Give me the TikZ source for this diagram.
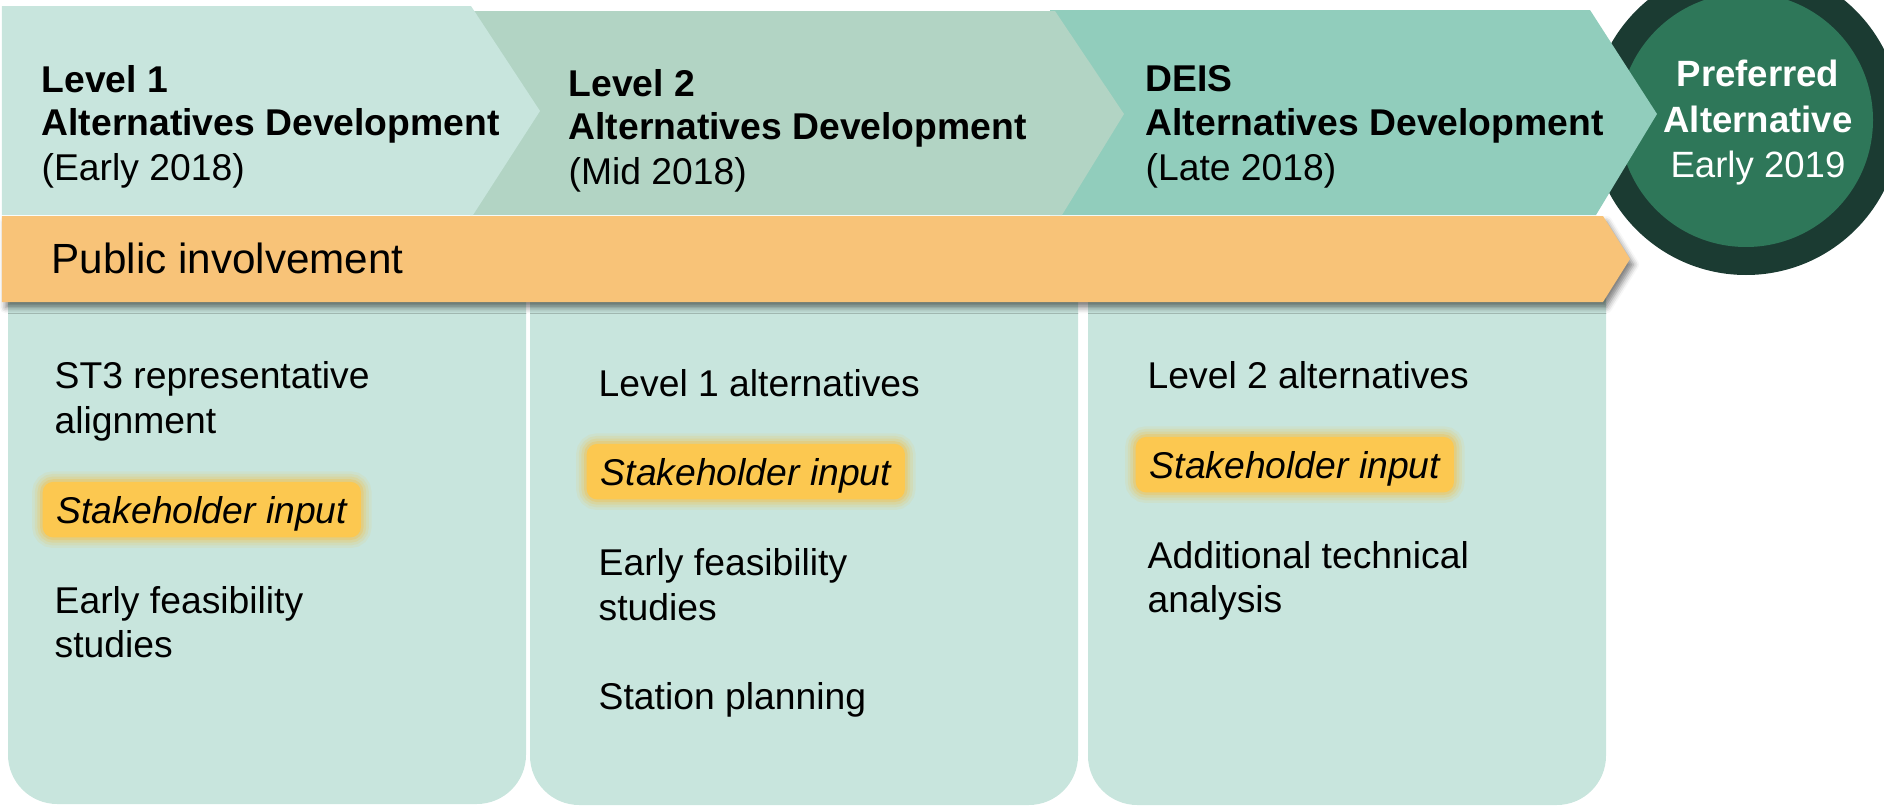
\documentclass[tikz,border=0pt]{standalone}
\usepackage{fontspec}
\setmainfont{Liberation Sans}
\usetikzlibrary{shadows.blur}
\definecolor{mintlight}{HTML}{C8E5DD}
\definecolor{mintmid}{HTML}{B2D4C4}
\definecolor{mintdark}{HTML}{91CDBC}
\definecolor{bandorange}{HTML}{F8C378}
\definecolor{stakeyellow}{HTML}{FCC850}
\definecolor{stakeglow}{HTML}{F5BE45}
\definecolor{prefgreen}{HTML}{2E7759}
\definecolor{prefring}{HTML}{1B3B32}
\tikzset{
    head/.style={font=\fontsize{10.6}{12.7}\selectfont\bfseries, anchor=base west, inner sep=0pt}, % phase titles
    date/.style={font=\fontsize{10.6}{12.7}\selectfont, anchor=base west, inner sep=0pt},
    item/.style={font=\fontsize{10.6}{12.7}\selectfont, anchor=base west, inner sep=0pt}, % panel entries
    stake/.style={font=\fontsize{10.6}{12.7}\selectfont\itshape, anchor=base west,
        fill=stakeyellow, rounded corners=3pt, inner xsep=4pt, inner ysep=4.1pt,
        text height=7.6pt, text depth=0pt,
        preaction={draw=stakeglow, line width=6pt, draw opacity=.10},
        preaction={draw=stakeglow, line width=4.5pt, draw opacity=.14},
        preaction={draw=stakeglow, line width=3pt, draw opacity=.20},
        preaction={draw=stakeglow, line width=1.5pt, draw opacity=.30}},
    panel/.style={fill=mintlight, rounded corners=14pt},
    pref/.style={text=white, anchor=base, inner sep=0pt},
}

\begin{document}
\begin{tikzpicture}[x=0.01cm, y=-0.01cm]
    \useasboundingbox (0,0) rectangle (1884,806);
    \clip (0,0) rectangle (1884,806);

    % final milestone
    \fill[prefring] (1746,120) circle[radius=155];
    \fill[prefgreen] (1746,120) circle[radius=127];

    % phase chevrons, drawn back to front
    \fill[mintdark] (1050,10) -- (1590,10) -- (1657,114) -- (1596,215) -- (1050,215) -- cycle;
    \fill[mintmid] (470,11) -- (1055,11) -- (1124,114) -- (1062,215) -- (470,215) -- cycle;
    \fill[mintlight] (2,6) -- (471,6) -- (540,111) -- (473,215) -- (2,215) -- cycle;

    % panels
    \fill[panel] (8,222) rectangle (526,804);
    \fill[panel] (530,222) rectangle (1078,805);
    \fill[panel] (1088,222) rectangle (1606,805);

    % public involvement arrow
    \fill[bandorange, blur shadow={shadow xshift=1pt, shadow yshift=-1.6pt, shadow blur radius=1.6pt, shadow opacity=50}]
        (2,216) -- (1603,216) -- (1630,259) -- (1603,302) -- (2,302) -- cycle;
    \node[anchor=base west, inner sep=0pt, font=\fontsize{12}{14}\selectfont] (pub) at (51,273) {Public involvement};

    % headings
    \node[head] (l1head) at (41,92) {Level 1};
    \node[head] (l1sub) at (41,135) {Alternatives Development};
    \node[date] (l1date) at (41,180) {(Early 2018)};

    \node[head] (l2head) at (568,96) {Level 2};
    \node[head] (l2sub) at (568,139) {Alternatives Development};
    \node[date] (l2date) at (568,184) {(Mid 2018)};

    \node[head] (dhead) at (1145,91) {DEIS};
    \node[head] (dsub) at (1145,135) {Alternatives Development};
    \node[date] (ddate) at (1145,180) {(Late 2018)};

    \node[pref, font=\fontsize{10.4}{12.5}\selectfont\bfseries] (prefa) at (1758,87) {Preferred};
    \node[pref, font=\fontsize{10.4}{12.5}\selectfont\bfseries] (prefb) at (1758,133) {Alternative};
    \node[pref, font=\fontsize{10.4}{12.5}\selectfont] (prefc) at (1758,177) {Early 2019};

    % panel 1
    \node[item] (p1a) at (54,388) {ST3 representative};
    \node[item] (p1b) at (54,433) {alignment};
    \node[stake] (p1s) at (42,523) {Stakeholder input};
    \node[item] (p1c) at (54,613) {Early feasibility};
    \node[item] (p1d) at (54,657) {studies};

    % panel 2
    \node[item] (p2a) at (598,396) {Level 1 alternatives};
    \node[stake] (p2s) at (586,485) {Stakeholder input};
    \node[item] (p2b) at (598,575) {Early feasibility};
    \node[item] (p2c) at (598,620) {studies};
    \node[item] (p2d) at (598,709) {Station planning};

    % panel 3
    \node[item] (p3a) at (1147,388) {Level 2 alternatives};
    \node[stake] (p3s) at (1135,478) {Stakeholder input};
    \node[item] (p3b) at (1147,568) {Additional technical};
    \node[item] (p3c) at (1147,612) {analysis};
\end{tikzpicture}
\end{document}
